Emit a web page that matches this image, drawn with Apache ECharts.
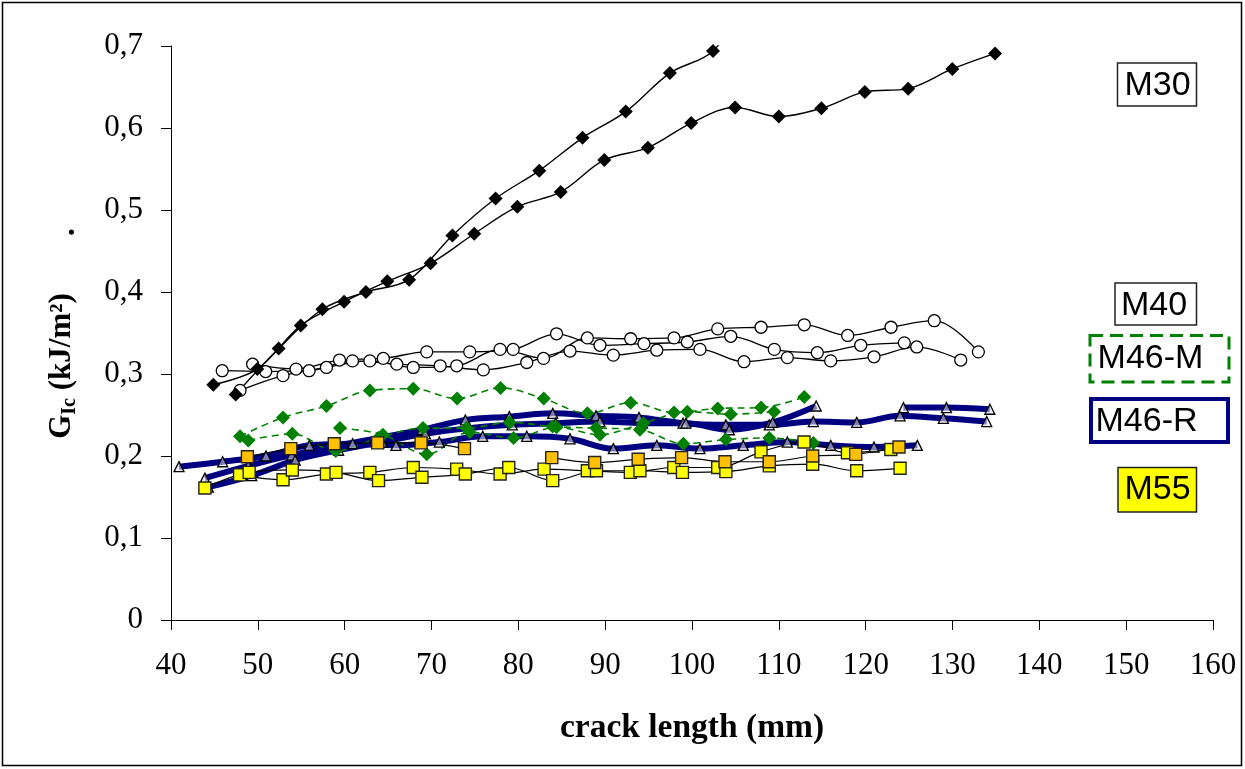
<!DOCTYPE html>
<html><head><meta charset="utf-8">
<script src="https://cdn.jsdelivr.net/npm/echarts@6/dist/echarts.min.js"></script>
<style>html,body{margin:0;padding:0;background:#fff}#c{width:1245px;height:769px}</style>
</head><body><div id="c"></div>
<script>
// axis settings
const xMin = 40, xMax = 160, xStep = 10;
const yMin = 0, yMax = 0.7, yStep = 0.1;
const xTitle = 'crack length (mm)';
const boxLabels = ['M30', 'M40', 'M46-M', 'M46-R', 'M55'];

// M30 (black diamonds)
const m30a = [[47.45,.275],[52.4,.331],[57.43,.379],[62.45,.400],[67.42,.415],[72.41,.469],[77.38,.514],[82.41,.548],[87.39,.588],[92.37,.620],[97.45,.667],[102.42,.694],[107.4,.77]];
const m30b = [[44.87,.287],[49.94,.306],[54.94,.359],[59.93,.388],[64.91,.413],[69.9,.435],[74.92,.471],[79.89,.504],[84.88,.522],[89.9,.561],[94.92,.576],[99.91,.606],[104.96,.625],[110.0,.614],[114.9,.624],[119.9,.644],[124.9,.648],[129.98,.672],[134.9,.691]];

// M40 (open circles)
const m40a = [[45.9,.304],[50.9,.303],[55.9,.304],[60.9,.316],[66.0,.312],[71.0,.310],[75.97,.305],[80.97,.314],[85.95,.328],[90.94,.323],[95.94,.329],[100.92,.330],[105.99,.315],[110.98,.320],[115.97,.316],[120.96,.321],[125.88,.333],[130.95,.317]];
const m40b = [[47.95,.280],[52.9,.298],[57.9,.308],[62.9,.316],[67.9,.308],[72.9,.310],[77.9,.330],[82.9,.319],[87.95,.344],[92.94,.343],[97.93,.344],[102.96,.355],[107.95,.357],[112.93,.360],[117.93,.347],[122.92,.357],[127.9,.365],[132.98,.327]];
const m40c = [[49.4,.312],[54.4,.306],[59.4,.317],[64.45,.319],[69.45,.327],[74.4,.327],[79.4,.330],[84.4,.349],[89.4,.335],[94.47,.337],[99.46,.339],[104.46,.346],[109.48,.330],[114.43,.326],[119.43,.335],[124.45,.338]];

// M46-M (green diamonds, dashed)
const m46ma = [[47.95,.224],[52.9,.247],[57.9,.261],[62.9,.280],[67.9,.282],[72.95,.270],[77.95,.283],[82.93,.270],[87.95,.252],[92.94,.265],[97.93,.253],[102.96,.258],[107.95,.259],[112.93,.272]];
const m46mb = [[48.9,.219],[53.97,.227],[58.97,.206],[63.87,.222],[69.02,.234],[74.05,.234],[79.0,.241],[83.95,.236],[88.95,.234],[94.0,.232],[99.0,.215],[103.9,.220],[108.9,.222],[113.97,.216]];
const m46mc = [[59.46,.234],[64.4,.226],[69.45,.202],[74.4,.229],[79.45,.222],[84.4,.235],[89.4,.226],[94.4,.240],[99.46,.254],[104.46,.251],[109.45,.254]];

// M46-R (navy thick, triangles)
const m46ra = [[44.3,.162],[49.3,.176],[54.3,.195],[59.3,.207],[64.3,.217],[69.3,.227],[74.3,.234],[79.3,.238],[84.3,.240],[89.4,.242],[94.3,.240],[99.3,.240],[104.3,.232],[109.3,.241],[114.3,.261],[119.3,null],[124.35,.259],[129.3,.259],[134.3,.257]];
const m46rb = [[43.9,.173],[48.9,.188],[53.9,.201],[58.9,.212],[63.9,.222],[68.9,.232],[73.9,.244],[78.96,.248],[83.96,.252],[88.95,.249],[93.9,.247],[98.97,.240],[103.9,.238],[108.9,.238],[113.97,.242],[118.97,.241],[123.96,.249],[128.95,.246],[133.94,.242]];
const m46rc = [[40.92,.187],[45.95,.193],[50.94,.200],[55.93,.213],[60.92,.215],[65.91,.213],[70.9,.217],[75.9,.224],[80.97,.224],[85.95,.221],[90.94,.209],[95.94,.213],[100.92,.209],[105.9,.213],[110.98,.217],[115.97,.213],[120.96,.211],[125.95,.213]];

// M55 (yellow / orange squares)
const m55a = [[47.9,.177],[52.9,.171],[57.9,.178],[62.9,.180],[67.9,.186],[72.9,.184],[77.9,.178],[82.96,.184],[87.95,.182],[92.9,.180],[97.9,.186],[102.96,.186],[107.95,.205],[112.9,.217],[117.9,.204],[122.9,.208]];
const m55b = [[43.9,.161],[49.0,.180],[53.97,.183],[59.0,.180],[63.9,.170],[68.9,.174],[73.9,.178],[78.9,.186],[83.96,.170],[89.0,.182],[94.0,.182],[98.9,.180],[103.9,.181],[108.9,.188],[113.9,.190],[118.97,.182],[123.96,.185]];
const m55c = [[48.8,.199],[53.8,.209],[58.8,.215],[63.8,.216],[68.8,.216],[73.8,.209],[78.8,null],[83.85,.198],[88.8,.192],[93.8,.196],[98.8,.198],[103.8,.193],[108.9,.193],[113.9,.200],[118.85,.202],[123.84,.211]];

const SERIF = '"Liberation Serif","Times New Roman",serif';
const SANS = '"Liberation Sans",Arial,sans-serif';

function navy(data){
  return {type:'line', data, smooth:0.35, symbol:'triangle', symbolSize:10,
    lineStyle:{color:'#000080', width:6},
    itemStyle:{color:'rgba(225,225,240,0.55)', borderColor:'#000', borderWidth:1.3}};
}
function green(data){
  return {type:'line', data, smooth:0.35, symbol:'diamond', symbolSize:14,
    lineStyle:{color:'#008000', width:1.6, type:[7,5]},
    itemStyle:{color:'#008000', borderColor:'#008000', borderWidth:0}};
}
function sq(data, fill){
  return {type:'line', data, smooth:0.35, symbol:'rect', symbolSize:12,
    lineStyle:{color:'#000', width:1.2},
    itemStyle:{color:fill, borderColor:'#222', borderWidth:1.4}};
}
function circ(data){
  return {type:'line', data, smooth:0.35, symbol:'circle', symbolSize:12,
    lineStyle:{color:'#000', width:1.3},
    itemStyle:{color:'#fff', borderColor:'#000', borderWidth:1.3}};
}
function dia(data){
  return {type:'line', data, smooth:0.35, symbol:'diamond', symbolSize:14,
    lineStyle:{color:'#000', width:1.4},
    itemStyle:{color:'#000', borderColor:'#000', borderWidth:0}};
}

const chart = echarts.init(document.getElementById('c'), null, {renderer:'canvas'});
chart.setOption({
  animation:false,
  backgroundColor:'#fff',
  grid:{left:171, top:46, right:32, bottom:149, containLabel:false},
  xAxis:{type:'value', min:xMin, max:xMax, interval:xStep,
    name:xTitle, nameLocation:'middle', nameGap:91,
    nameTextStyle:{fontFamily:SERIF, fontSize:33.5, fontWeight:'bold', color:'#000'},
    axisLine:{show:true, onZero:false, lineStyle:{color:'#000', width:1}},
    axisTick:{show:true, inside:false, length:10, lineStyle:{color:'#000'}},
    axisLabel:{margin:30, fontFamily:SERIF, fontSize:31, color:'#000'},
    splitLine:{show:false}},
  yAxis:{type:'value', min:yMin, max:yMax, interval:yStep,
    axisLine:{show:true, lineStyle:{color:'#000', width:1}},
    axisTick:{show:true, inside:false, length:10, lineStyle:{color:'#000'}},
    axisLabel:{margin:28, fontFamily:SERIF, fontSize:31, color:'#000',
      formatter:v => v===0 ? '0' : v.toFixed(1).replace('.', ',')},
    splitLine:{show:false}},
  series:[
    navy(m46rc), navy(m46rb), navy(m46ra),
    green(m46ma), green(m46mb), green(m46mc),
    sq(m55a,'#FFFF00'), sq(m55b,'#FFFF00'), sq(m55c,'#FFC000'),
    circ(m40a), circ(m40b), circ(m40c),
    dia(m30a), dia(m30b)
  ],
  graphic:[
    {type:'rect', shape:{x:2.5, y:2.5, width:1239, height:763}, style:{fill:null, stroke:'#000', lineWidth:1.5}, silent:true},
    {type:'text', x:62, y:366, rotation:Math.PI/2,
      style:{text:'{g|G}{s|Ic}{g| (kJ/m²)}', align:'center', verticalAlign:'middle',
        rich:{g:{fontFamily:SERIF, fontSize:31, fontWeight:'bold', fill:'#000', lineHeight:36},
              s:{fontFamily:SERIF, fontSize:20, fontWeight:'bold', fill:'#000', lineHeight:20, verticalAlign:'bottom'}}}},
    {type:'text', x:66, y:232, rotation:Math.PI/2,
      style:{text:'.', align:'center', verticalAlign:'middle', fontFamily:SERIF, fontSize:31, fontWeight:'bold', fill:'#000'}},
    {type:'rect', shape:{x:1117.5, y:63, width:79, height:43}, style:{fill:'#fff', stroke:'#222', lineWidth:1.5}},
    {type:'text', x:1157.5, y:86, style:{text:boxLabels[0], fontFamily:SANS, fontSize:34, fill:'#000', align:'center', verticalAlign:'middle'}},
    {type:'rect', shape:{x:1115, y:283, width:81.5, height:42}, style:{fill:'#fff', stroke:'#222', lineWidth:1.5}},
    {type:'text', x:1154, y:306, style:{text:boxLabels[1], fontFamily:SANS, fontSize:34, fill:'#000', align:'center', verticalAlign:'middle'}},
    {type:'rect', shape:{x:1090, y:335.5, width:139, height:46.5}, style:{fill:'#fff', stroke:'#008000', lineWidth:3, lineDash:[13,7]}},
    {type:'text', x:1150.5, y:359, style:{text:boxLabels[2], fontFamily:SANS, fontSize:34, fill:'#000', align:'center', verticalAlign:'middle'}},
    {type:'rect', shape:{x:1091, y:399, width:137, height:43}, style:{fill:'#fff', stroke:'#000080', lineWidth:4}},
    {type:'text', x:1146.5, y:421.5, style:{text:boxLabels[3], fontFamily:SANS, fontSize:34, fill:'#000', align:'center', verticalAlign:'middle'}},
    {type:'rect', shape:{x:1118, y:467.5, width:78.5, height:44.5}, style:{fill:'#FFFF00', stroke:'#222', lineWidth:1.5}},
    {type:'text', x:1157.5, y:490, style:{text:boxLabels[4], fontFamily:SANS, fontSize:34, fill:'#000', align:'center', verticalAlign:'middle'}}
  ]
});
</script></body></html>
